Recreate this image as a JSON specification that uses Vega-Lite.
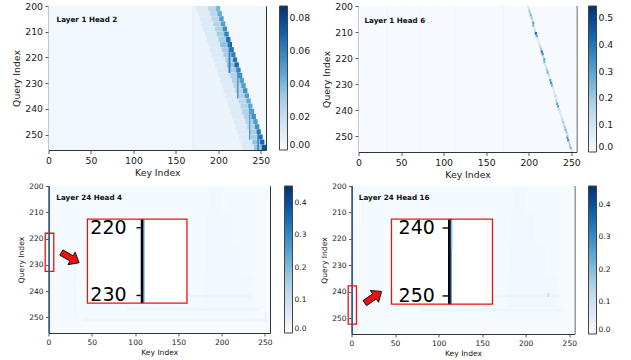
{
"$schema": "https://vega.github.io/schema/vega-lite/v6.json",
"background": "white",
"padding": {"left": 11.5, "top": 1, "right": 0, "bottom": 0},
"config": {
  "font": "DejaVu Sans",
  "view": {"stroke": "#333", "strokeWidth": 1},
  "axis": {"grid": false, "domain": false, "ticks": true, "tickCount": 12, "tickColor": "#333", "tickSize": 3.5, "tickWidth": 0.8, "labelColor": "#1a1a1a", "titleColor": "#1a1a1a", "titleFontWeight": "normal", "labelFontSize": 9.3, "titleFontSize": 9.3, "labelFlush": false, "labelOverlap": false, "labelPadding": 2.5, "titlePadding": 3, "labelFont": "DejaVu Sans", "titleFont": "DejaVu Sans"},
  "legend": {"type": "gradient", "title": null, "gradientThickness": 8, "gradientStrokeColor": "#444", "gradientStrokeWidth": 1, "labelOverlap": false, "labelColor": "#1a1a1a", "labelFont": "DejaVu Sans", "padding": 0, "labelOffset": 6, "labelBaseline": "middle", "direction": "vertical", "orient": "right"}
},
"datasets": {
  "tl": [
    {"k0":0,"k1":256,"q0":200,"q1":256,"v":0.0025},
    {"k0":169.5,"k1":171,"q0":200,"q1":256,"v":0.012},
    {"k0":171,"k1":202,"q0":200,"q1":202,"v":0.005},{"k0":174,"k1":202,"q0":200,"q1":202,"v":0.011},{"k0":188,"k1":202,"q0":200,"q1":202,"v":0.024},{"k0":197,"k1":202,"q0":200,"q1":202,"v":0.04},
    {"k0":171,"k1":204,"q0":202,"q1":204,"v":0.005},{"k0":176,"k1":204,"q0":202,"q1":204,"v":0.011},{"k0":190,"k1":204,"q0":202,"q1":204,"v":0.024},{"k0":199,"k1":204,"q0":202,"q1":204,"v":0.045},
    {"k0":171,"k1":206,"q0":204,"q1":206,"v":0.005},{"k0":178,"k1":206,"q0":204,"q1":206,"v":0.011},{"k0":192,"k1":206,"q0":204,"q1":206,"v":0.024},{"k0":201,"k1":206,"q0":204,"q1":206,"v":0.05},
    {"k0":171,"k1":208,"q0":206,"q1":208,"v":0.005},{"k0":180,"k1":208,"q0":206,"q1":208,"v":0.012},{"k0":194,"k1":208,"q0":206,"q1":208,"v":0.027},{"k0":203,"k1":208,"q0":206,"q1":208,"v":0.05},
    {"k0":171,"k1":210,"q0":208,"q1":210,"v":0.005},{"k0":182,"k1":210,"q0":208,"q1":210,"v":0.012},{"k0":196,"k1":210,"q0":208,"q1":210,"v":0.027},{"k0":205,"k1":210,"q0":208,"q1":210,"v":0.055},
    {"k0":171,"k1":212,"q0":210,"q1":212,"v":0.005},{"k0":184,"k1":212,"q0":210,"q1":212,"v":0.012},{"k0":198,"k1":212,"q0":210,"q1":212,"v":0.03},{"k0":207,"k1":212,"q0":210,"q1":212,"v":0.06},
    {"k0":171,"k1":214,"q0":212,"q1":214,"v":0.005},{"k0":186,"k1":214,"q0":212,"q1":214,"v":0.012},{"k0":200,"k1":214,"q0":212,"q1":214,"v":0.03},{"k0":209,"k1":214,"q0":212,"q1":214,"v":0.065},
    {"k0":171,"k1":216,"q0":214,"q1":216,"v":0.005},{"k0":188,"k1":216,"q0":214,"q1":216,"v":0.012},{"k0":202,"k1":216,"q0":214,"q1":216,"v":0.035},{"k0":211,"k1":216,"q0":214,"q1":216,"v":0.07},
    {"k0":171,"k1":218,"q0":216,"q1":218,"v":0.005},{"k0":190,"k1":218,"q0":216,"q1":218,"v":0.012},{"k0":204,"k1":218,"q0":216,"q1":218,"v":0.03},{"k0":213,"k1":218,"q0":216,"q1":218,"v":0.065},
    {"k0":171,"k1":220,"q0":218,"q1":220,"v":0.005},{"k0":192,"k1":220,"q0":218,"q1":220,"v":0.012},{"k0":206,"k1":220,"q0":218,"q1":220,"v":0.03},{"k0":215,"k1":220,"q0":218,"q1":220,"v":0.06},
    {"k0":171,"k1":222,"q0":220,"q1":222,"v":0.005},{"k0":194,"k1":222,"q0":220,"q1":222,"v":0.012},{"k0":208,"k1":222,"q0":220,"q1":222,"v":0.03},{"k0":217,"k1":222,"q0":220,"q1":222,"v":0.065},
    {"k0":171,"k1":224,"q0":222,"q1":224,"v":0.005},{"k0":196,"k1":224,"q0":222,"q1":224,"v":0.012},{"k0":210,"k1":224,"q0":222,"q1":224,"v":0.035},{"k0":219,"k1":224,"q0":222,"q1":224,"v":0.07},
    {"k0":171,"k1":226,"q0":224,"q1":226,"v":0.005},{"k0":198,"k1":226,"q0":224,"q1":226,"v":0.012},{"k0":212,"k1":226,"q0":224,"q1":226,"v":0.03},{"k0":221,"k1":226,"q0":224,"q1":226,"v":0.06},
    {"k0":171,"k1":228,"q0":226,"q1":228,"v":0.005},{"k0":200,"k1":228,"q0":226,"q1":228,"v":0.011},{"k0":214,"k1":228,"q0":226,"q1":228,"v":0.027},{"k0":223,"k1":228,"q0":226,"q1":228,"v":0.055},
    {"k0":171,"k1":230,"q0":228,"q1":230,"v":0.005},{"k0":202,"k1":230,"q0":228,"q1":230,"v":0.011},{"k0":216,"k1":230,"q0":228,"q1":230,"v":0.027},{"k0":225,"k1":230,"q0":228,"q1":230,"v":0.05},
    {"k0":171,"k1":232,"q0":230,"q1":232,"v":0.005},{"k0":204,"k1":232,"q0":230,"q1":232,"v":0.011},{"k0":218,"k1":232,"q0":230,"q1":232,"v":0.027},{"k0":227,"k1":232,"q0":230,"q1":232,"v":0.05},
    {"k0":171,"k1":234,"q0":232,"q1":234,"v":0.005},{"k0":206,"k1":234,"q0":232,"q1":234,"v":0.011},{"k0":220,"k1":234,"q0":232,"q1":234,"v":0.027},{"k0":229,"k1":234,"q0":232,"q1":234,"v":0.055},
    {"k0":171,"k1":236,"q0":234,"q1":236,"v":0.005},{"k0":208,"k1":236,"q0":234,"q1":236,"v":0.011},{"k0":222,"k1":236,"q0":234,"q1":236,"v":0.027},{"k0":231,"k1":236,"q0":234,"q1":236,"v":0.05},
    {"k0":171,"k1":238,"q0":236,"q1":238,"v":0.005},{"k0":210,"k1":238,"q0":236,"q1":238,"v":0.01},{"k0":224,"k1":238,"q0":236,"q1":238,"v":0.024},{"k0":233,"k1":238,"q0":236,"q1":238,"v":0.045},
    {"k0":171,"k1":240,"q0":238,"q1":240,"v":0.005},{"k0":212,"k1":240,"q0":238,"q1":240,"v":0.011},{"k0":226,"k1":240,"q0":238,"q1":240,"v":0.027},{"k0":235,"k1":240,"q0":238,"q1":240,"v":0.045},
    {"k0":171,"k1":242,"q0":240,"q1":242,"v":0.005},{"k0":214,"k1":242,"q0":240,"q1":242,"v":0.011},{"k0":228,"k1":242,"q0":240,"q1":242,"v":0.027},{"k0":237,"k1":242,"q0":240,"q1":242,"v":0.05},
    {"k0":171,"k1":244,"q0":242,"q1":244,"v":0.005},{"k0":216,"k1":244,"q0":242,"q1":244,"v":0.011},{"k0":230,"k1":244,"q0":242,"q1":244,"v":0.027},{"k0":239,"k1":244,"q0":242,"q1":244,"v":0.055},
    {"k0":171,"k1":246,"q0":244,"q1":246,"v":0.005},{"k0":218,"k1":246,"q0":244,"q1":246,"v":0.011},{"k0":232,"k1":246,"q0":244,"q1":246,"v":0.027},{"k0":241,"k1":246,"q0":244,"q1":246,"v":0.05},
    {"k0":171,"k1":248,"q0":246,"q1":248,"v":0.005},{"k0":220,"k1":248,"q0":246,"q1":248,"v":0.011},{"k0":234,"k1":248,"q0":246,"q1":248,"v":0.027},{"k0":243,"k1":248,"q0":246,"q1":248,"v":0.055},
    {"k0":171,"k1":250,"q0":248,"q1":250,"v":0.005},{"k0":222,"k1":250,"q0":248,"q1":250,"v":0.012},{"k0":236,"k1":250,"q0":248,"q1":250,"v":0.03},{"k0":245,"k1":250,"q0":248,"q1":250,"v":0.06},
    {"k0":171,"k1":252,"q0":250,"q1":252,"v":0.005},{"k0":224,"k1":252,"q0":250,"q1":252,"v":0.012},{"k0":238,"k1":252,"q0":250,"q1":252,"v":0.03},{"k0":247,"k1":252,"q0":250,"q1":252,"v":0.065},
    {"k0":171,"k1":254,"q0":252,"q1":254,"v":0.005},{"k0":226,"k1":254,"q0":252,"q1":254,"v":0.012},{"k0":240,"k1":254,"q0":252,"q1":254,"v":0.035},{"k0":249,"k1":254,"q0":252,"q1":254,"v":0.07},
    {"k0":171,"k1":256,"q0":254,"q1":256,"v":0.005},{"k0":228,"k1":256,"q0":254,"q1":256,"v":0.012},{"k0":242,"k1":256,"q0":254,"q1":256,"v":0.035},{"k0":251,"k1":256,"q0":254,"q1":256,"v":0.075},
    {"k0":212,"k1":214,"q0":213,"q1":226,"v":0.06},
    {"k0":222,"k1":223.5,"q0":223,"q1":236,"v":0.055},
    {"k0":236,"k1":237.5,"q0":238,"q1":252,"v":0.05},
    {"k0":246,"k1":247.5,"q0":248,"q1":256,"v":0.065}
  ],
  "tr": [
    {"k0":0,"k1":256,"q0":200,"q1":256,"v":0.004},
    {"k0":33,"k1":34,"q0":200,"q1":256,"v":0.02},
    {"k0":50,"k1":51,"q0":200,"q1":256,"v":0.012},
    {"k0":72,"k1":73,"q0":200,"q1":256,"v":0.02},
    {"k0":88,"k1":89,"q0":200,"q1":256,"v":0.012},
    {"k0":113,"k1":114,"q0":200,"q1":256,"v":0.02},
    {"k0":169.5,"k1":171,"q0":200,"q1":256,"v":0.035},
    {"k0":198,"k1":200.5,"q0":200,"q1":201,"v":0.1},
    {"k0":199,"k1":201.5,"q0":201,"q1":202,"v":0.15},
    {"k0":200,"k1":202.5,"q0":202,"q1":203,"v":0.2},
    {"k0":201,"k1":203.5,"q0":203,"q1":204,"v":0.25},
    {"k0":202,"k1":204.5,"q0":204,"q1":205,"v":0.2},
    {"k0":203,"k1":205.5,"q0":205,"q1":206,"v":0.15},
    {"k0":204,"k1":206.5,"q0":206,"q1":207,"v":0.3},
    {"k0":204,"k1":206.5,"q0":207,"q1":208,"v":0.25},
    {"k0":205,"k1":207.5,"q0":208,"q1":209,"v":0.1},
    {"k0":206,"k1":208.5,"q0":209,"q1":210,"v":0.15},
    {"k0":207,"k1":209.5,"q0":210,"q1":211,"v":0.45},
    {"k0":208,"k1":210.5,"q0":211,"q1":212,"v":0.3},
    {"k0":209,"k1":211.5,"q0":212,"q1":213,"v":0.1},
    {"k0":210,"k1":212.5,"q0":213,"q1":214,"v":0.08},
    {"k0":211,"k1":213.5,"q0":214,"q1":215,"v":0.1},
    {"k0":212,"k1":214.5,"q0":215,"q1":216,"v":0.15},
    {"k0":213,"k1":215.5,"q0":216,"q1":217,"v":0.2},
    {"k0":214,"k1":216.5,"q0":217,"q1":218,"v":0.4},
    {"k0":215,"k1":217.5,"q0":218,"q1":219,"v":0.35},
    {"k0":216,"k1":218.5,"q0":219,"q1":220,"v":0.15},
    {"k0":217,"k1":219.5,"q0":220,"q1":221,"v":0.3},
    {"k0":217,"k1":219.5,"q0":221,"q1":222,"v":0.25},
    {"k0":218,"k1":220.5,"q0":222,"q1":223,"v":0.1},
    {"k0":219,"k1":221.5,"q0":223,"q1":224,"v":0.1},
    {"k0":220,"k1":222.5,"q0":224,"q1":225,"v":0.2},
    {"k0":221,"k1":223.5,"q0":225,"q1":226,"v":0.25},
    {"k0":222,"k1":224.5,"q0":226,"q1":227,"v":0.15},
    {"k0":223,"k1":225.5,"q0":227,"q1":228,"v":0.1},
    {"k0":224,"k1":226.5,"q0":228,"q1":229,"v":0.3},
    {"k0":225,"k1":227.5,"q0":229,"q1":230,"v":0.35},
    {"k0":226,"k1":228.5,"q0":230,"q1":231,"v":0.25},
    {"k0":227,"k1":229.5,"q0":231,"q1":232,"v":0.1},
    {"k0":228,"k1":230.5,"q0":232,"q1":233,"v":0.08},
    {"k0":229,"k1":231.5,"q0":233,"q1":234,"v":0.1},
    {"k0":230,"k1":232.5,"q0":234,"q1":235,"v":0.15},
    {"k0":231,"k1":233.5,"q0":235,"q1":236,"v":0.1},
    {"k0":231,"k1":233.5,"q0":236,"q1":237,"v":0.15},
    {"k0":232,"k1":234.5,"q0":237,"q1":238,"v":0.3},
    {"k0":233,"k1":235.5,"q0":238,"q1":239,"v":0.3},
    {"k0":234,"k1":236.5,"q0":239,"q1":240,"v":0.15},
    {"k0":235,"k1":237.5,"q0":240,"q1":241,"v":0.1},
    {"k0":236,"k1":238.5,"q0":241,"q1":242,"v":0.1},
    {"k0":237,"k1":239.5,"q0":242,"q1":243,"v":0.1},
    {"k0":238,"k1":240.5,"q0":243,"q1":244,"v":0.15},
    {"k0":239,"k1":241.5,"q0":244,"q1":245,"v":0.2},
    {"k0":240,"k1":242.5,"q0":245,"q1":246,"v":0.15},
    {"k0":241,"k1":243.5,"q0":246,"q1":247,"v":0.2},
    {"k0":242,"k1":244.5,"q0":247,"q1":248,"v":0.25},
    {"k0":243,"k1":245.5,"q0":248,"q1":249,"v":0.2},
    {"k0":244,"k1":246.5,"q0":249,"q1":250,"v":0.15},
    {"k0":244,"k1":246.5,"q0":250,"q1":251,"v":0.3},
    {"k0":245,"k1":247.5,"q0":251,"q1":252,"v":0.35},
    {"k0":246,"k1":248.5,"q0":252,"q1":253,"v":0.15},
    {"k0":247,"k1":249.5,"q0":253,"q1":254,"v":0.2},
    {"k0":248,"k1":250.5,"q0":254,"q1":255,"v":0.25},
    {"k0":249,"k1":251.5,"q0":255,"q1":256,"v":0.1}
  ],
  "bl": [
    {"k0":0,"k1":256,"q0":200,"q1":256,"v":0.005},
    {"k0":186,"k1":200,"q0":200,"q1":210,"v":0.01},
    {"k0":183,"k1":210,"q0":210,"q1":222,"v":0.01},
    {"k0":181,"k1":222,"q0":222,"q1":234,"v":0.01},
    {"k0":179,"k1":236,"q0":234,"q1":246,"v":0.009},
    {"k0":120,"k1":121.5,"q0":212,"q1":240,"v":0.03},
    {"k0":127,"k1":128,"q0":214,"q1":244,"v":0.025},
    {"k0":150,"k1":151,"q0":215,"q1":240,"v":0.02},
    {"k0":30,"k1":31,"q0":226,"q1":250,"v":0.02},
    {"k0":210,"k1":211,"q0":205,"q1":230,"v":0.02},
    {"k0":140,"k1":235,"q0":241.5,"q1":242.5,"v":0.025},
    {"k0":90,"k1":245,"q0":246.5,"q1":247.5,"v":0.02},
    {"k0":40,"k1":250,"q0":250.5,"q1":251.5,"v":0.02},
    {"k0":250,"k1":252,"q0":248,"q1":252,"v":0.04},
    {"k0":0,"k1":1.5,"q0":200,"q1":256,"v":0.44}
  ],
  "br": [
    {"k0":0,"k1":256,"q0":200,"q1":256,"v":0.005},
    {"k0":186,"k1":200,"q0":200,"q1":210,"v":0.01},
    {"k0":183,"k1":210,"q0":210,"q1":222,"v":0.01},
    {"k0":181,"k1":222,"q0":222,"q1":234,"v":0.01},
    {"k0":179,"k1":236,"q0":234,"q1":246,"v":0.009},
    {"k0":151,"k1":152,"q0":222,"q1":234,"v":0.03},
    {"k0":120,"k1":121,"q0":210,"q1":238,"v":0.02},
    {"k0":13,"k1":14,"q0":205,"q1":215,"v":0.03},
    {"k0":140,"k1":240,"q0":241,"q1":242,"v":0.022},
    {"k0":80,"k1":245,"q0":246.5,"q1":247.5,"v":0.018},
    {"k0":225,"k1":227,"q0":240.5,"q1":242,"v":0.12},
    {"k0":0,"k1":1.5,"q0":200,"q1":256,"v":0.45}
  ],
  "titles": [
    {"p":"tl","k0":9.5,"q0":205.5,"t":"Layer 1 Head 2"},
    {"p":"tr","k0":7,"q0":205.8,"t":"Layer 1 Head 6"},
    {"p":"bl","k0":9.1,"q0":204.7,"t":"Layer 24 Head 4"},
    {"p":"br","k0":8.4,"q0":204.7,"t":"Layer 24 Head 16"}
  ],
  "boxes": [
    {"p":"bl","k0":45,"k1":160,"q0":212.6,"q1":244.6},
    {"p":"br","k0":45.9,"k1":161.8,"q0":212.5,"q1":244.7}
  ],
  "sboxes": [
    {"p":"bl","k0":-3.8,"k1":6.1,"q0":218,"q1":232.5},
    {"p":"br","k0":-3.8,"k1":5.7,"q0":237.8,"q1":252.3}
  ],
  "frames": [
    {"p":"bl","k0":106.6,"k1":109.4,"q0":212.6,"q1":244.6},
    {"p":"br","k0":110.8,"k1":113,"q0":212.5,"q1":244.7}
  ],
  "ibars": [
    {"p":"bl","k0":109.4,"k1":110.9,"q0":212.6,"q1":244.6,"v":0.29},
    {"p":"br","k0":113,"k1":114.8,"q0":212.5,"q1":244.7,"v":0.44},
    {"p":"br","k0":114.8,"k1":116,"q0":213,"q1":224,"v":0.15}
  ],
  "iticks": [
    {"p":"bl","k0":101.7,"k1":106.6,"q0":215.9},
    {"p":"bl","k0":101.7,"k1":106.6,"q0":241.7},
    {"p":"br","k0":104.5,"k1":110.8,"q0":215.9},
    {"p":"br","k0":104.5,"k1":110.8,"q0":241.6}
  ],
  "itext": [
    {"p":"bl","k0":90.3,"q0":215.9,"t":"220"},
    {"p":"bl","k0":90.3,"q0":241.7,"t":"230"},
    {"p":"br","k0":95.7,"q0":215.9,"t":"240"},
    {"p":"br","k0":95.7,"q0":241.6,"t":"250"}
  ],
  "arrows": [
    {"p":"bl","k0":25.1,"q0":227.3},
    {"p":"br","k0":24.9,"q0":242.1}
  ]
},
"vconcat": [
  {
    "hconcat": [
      {
        "width": 217.5, "height": 144,
        "layer": [
          {"data": {"name": "tl"}, "mark": {"type": "rect"},
           "encoding": {
             "x": {"field": "k0", "type": "quantitative", "scale": {"domain": [0, 256], "nice": false, "zero": false}, "axis": {"title": "Key Index", "values": [0, 50, 100, 150, 200, 250], "tickCount": 12, "labelOverlap": false}},
             "x2": {"field": "k1"},
             "y": {"field": "q0", "type": "quantitative", "scale": {"domain": [200, 256], "reverse": true, "nice": false, "zero": false}, "axis": {"title": "Query Index", "values": [200, 210, 220, 230, 240, 250], "tickCount": 12, "labelOverlap": false}},
             "y2": {"field": "q1"},
             "color": {"field": "v", "type": "quantitative", "scale": {"domain": [0, 0.087], "range": ["#f7fbff","#deebf7","#c6dbef","#9ecae1","#6baed6","#4292c6","#2171b5","#08519c","#08306b"], "interpolate": "rgb"}, "legend": {"values": [0, 0.02, 0.04, 0.06, 0.08], "format": ".2f", "gradientLength": 144, "offset": 13, "labelFontSize": 9.3}}
           }},
          {"data": {"name": "titles"}, "transform": [{"filter": "datum.p == 'tl'"}],
           "mark": {"type": "text", "align": "left", "baseline": "middle", "fontWeight": "bold", "fontSize": 7.2, "font": "DejaVu Sans", "color": "#111"},
           "encoding": {"x": {"field": "k0", "type": "quantitative"}, "y": {"field": "q0", "type": "quantitative"}, "text": {"field": "t"}}}
        ]
      },
      {
        "width": 218, "height": 146,
        "layer": [
          {"data": {"name": "tr"}, "mark": {"type": "rect"},
           "encoding": {
             "x": {"field": "k0", "type": "quantitative", "scale": {"domain": [0, 256], "nice": false, "zero": false}, "axis": {"title": "Key Index", "values": [0, 50, 100, 150, 200, 250], "tickCount": 12, "labelOverlap": false}},
             "x2": {"field": "k1"},
             "y": {"field": "q0", "type": "quantitative", "scale": {"domain": [200, 256], "reverse": true, "nice": false, "zero": false}, "axis": {"title": "Query Index", "values": [200, 210, 220, 230, 240, 250], "tickCount": 12, "labelOverlap": false}},
             "y2": {"field": "q1"},
             "color": {"field": "v", "type": "quantitative", "scale": {"domain": [0, 0.545], "range": ["#f7fbff","#deebf7","#c6dbef","#9ecae1","#6baed6","#4292c6","#2171b5","#08519c","#08306b"], "interpolate": "rgb"}, "legend": {"values": [0, 0.1, 0.2, 0.3, 0.4, 0.5], "format": ".1f", "gradientLength": 146, "offset": 12, "labelFontSize": 9.3}}
           }},
          {"data": {"name": "titles"}, "transform": [{"filter": "datum.p == 'tr'"}],
           "mark": {"type": "text", "align": "left", "baseline": "middle", "fontWeight": "bold", "fontSize": 7.2, "font": "DejaVu Sans", "color": "#111"},
           "encoding": {"x": {"field": "k0", "type": "quantitative"}, "y": {"field": "q0", "type": "quantitative"}, "text": {"field": "t"}}}
        ]
      }
    ],
    "spacing": 92, "bounds": "flush",
    "resolve": {"scale": {"color": "independent", "x": "independent", "y": "independent"}, "legend": {"color": "independent"}}
  },
  {
    "hconcat": [
      {
        "width": 221.5, "height": 147,
        "layer": [
          {"data": {"name": "bl"}, "mark": {"type": "rect"},
           "encoding": {
             "x": {"field": "k0", "type": "quantitative", "scale": {"domain": [0, 256], "nice": false, "zero": false}, "axis": {"title": "Key Index", "values": [0, 50, 100, 150, 200, 250], "tickCount": 12, "labelOverlap": false, "labelFontSize": 7.5, "titleFontSize": 7.6, "tickSize": 3, "titlePadding": 2}},
             "x2": {"field": "k1"},
             "y": {"field": "q0", "type": "quantitative", "scale": {"domain": [200, 256], "reverse": true, "nice": false, "zero": false}, "axis": {"title": "Query Index", "values": [200, 210, 220, 230, 240, 250], "tickCount": 12, "labelOverlap": false, "labelFontSize": 7.5, "titleFontSize": 7.6, "tickSize": 3}},
             "y2": {"field": "q1"},
             "color": {"field": "v", "type": "quantitative", "scale": {"domain": [0, 0.452], "range": ["#f7fbff","#deebf7","#c6dbef","#9ecae1","#6baed6","#4292c6","#2171b5","#08519c","#08306b"], "interpolate": "rgb"}, "legend": {"values": [0, 0.1, 0.2, 0.3, 0.4], "format": ".1f", "gradientLength": 147, "offset": 14, "labelFontSize": 7.5}}
           }},
          {"data": {"name": "boxes"}, "transform": [{"filter": "datum.p == 'bl'"}], "mark": {"type": "rect", "fill": "white"},
           "encoding": {"x": {"field": "k0", "type": "quantitative"}, "x2": {"field": "k1"}, "y": {"field": "q0", "type": "quantitative"}, "y2": {"field": "q1"}}},
          {"data": {"name": "ibars"}, "transform": [{"filter": "datum.p == 'bl'"}], "mark": {"type": "rect"},
           "encoding": {"x": {"field": "k0", "type": "quantitative"}, "x2": {"field": "k1"}, "y": {"field": "q0", "type": "quantitative"}, "y2": {"field": "q1"},
             "color": {"field": "v", "type": "quantitative"}}},
          {"data": {"name": "frames"}, "transform": [{"filter": "datum.p == 'bl'"}], "mark": {"type": "rect", "fill": "black"},
           "encoding": {"x": {"field": "k0", "type": "quantitative"}, "x2": {"field": "k1"}, "y": {"field": "q0", "type": "quantitative"}, "y2": {"field": "q1"}}},
          {"data": {"name": "iticks"}, "transform": [{"filter": "datum.p == 'bl'"}], "mark": {"type": "rule", "color": "black", "strokeWidth": 1.4},
           "encoding": {"x": {"field": "k0", "type": "quantitative"}, "x2": {"field": "k1"}, "y": {"field": "q0", "type": "quantitative"}}},
          {"data": {"name": "itext"}, "transform": [{"filter": "datum.p == 'bl'"}], "mark": {"type": "text", "align": "right", "baseline": "middle", "fontSize": 19, "font": "DejaVu Sans", "color": "black"},
           "encoding": {"x": {"field": "k0", "type": "quantitative"}, "y": {"field": "q0", "type": "quantitative"}, "text": {"field": "t"}}},
          {"data": {"name": "boxes"}, "transform": [{"filter": "datum.p == 'bl'"}], "mark": {"type": "rect", "fill": null, "fillOpacity": 0, "stroke": "#ee1111", "strokeWidth": 1.3},
           "encoding": {"x": {"field": "k0", "type": "quantitative"}, "x2": {"field": "k1"}, "y": {"field": "q0", "type": "quantitative"}, "y2": {"field": "q1"}}},
          {"data": {"name": "sboxes"}, "transform": [{"filter": "datum.p == 'bl'"}], "mark": {"type": "rect", "fill": null, "fillOpacity": 0, "stroke": "#ee1111", "strokeWidth": 1.3, "clip": false},
           "encoding": {"x": {"field": "k0", "type": "quantitative"}, "x2": {"field": "k1"}, "y": {"field": "q0", "type": "quantitative"}, "y2": {"field": "q1"}}},
          {"data": {"name": "arrows"}, "transform": [{"filter": "datum.p == 'bl'"}],
           "mark": {"type": "point", "shape": "M -1 -0.3 L 0.15 -0.3 L 0.15 -0.7 L 1 0 L 0.15 0.7 L 0.15 0.3 L -1 0.3 Z", "size": 420, "filled": true, "fill": "#ee1111", "stroke": "black", "strokeWidth": 0.8, "angle": 30, "opacity": 1, "fillOpacity": 1},
           "encoding": {"x": {"field": "k0", "type": "quantitative"}, "y": {"field": "q0", "type": "quantitative"}}},
          {"data": {"name": "titles"}, "transform": [{"filter": "datum.p == 'bl'"}],
           "mark": {"type": "text", "align": "left", "baseline": "middle", "fontWeight": "bold", "fontSize": 7.2, "font": "DejaVu Sans", "color": "#111"},
           "encoding": {"x": {"field": "k0", "type": "quantitative"}, "y": {"field": "q0", "type": "quantitative"}, "text": {"field": "t"}}}
        ]
      },
      {
        "width": 223, "height": 148,
        "layer": [
          {"data": {"name": "br"}, "mark": {"type": "rect"},
           "encoding": {
             "x": {"field": "k0", "type": "quantitative", "scale": {"domain": [0, 256], "nice": false, "zero": false}, "axis": {"title": "Key Index", "values": [0, 50, 100, 150, 200, 250], "tickCount": 12, "labelOverlap": false, "labelFontSize": 7.5, "titleFontSize": 7.6, "tickSize": 3, "titlePadding": 2}},
             "x2": {"field": "k1"},
             "y": {"field": "q0", "type": "quantitative", "scale": {"domain": [200, 256], "reverse": true, "nice": false, "zero": false}, "axis": {"title": "Query Index", "values": [200, 210, 220, 230, 240, 250], "tickCount": 12, "labelOverlap": false, "labelFontSize": 7.5, "titleFontSize": 7.6, "tickSize": 3}},
             "y2": {"field": "q1"},
             "color": {"field": "v", "type": "quantitative", "scale": {"domain": [0, 0.46], "range": ["#f7fbff","#deebf7","#c6dbef","#9ecae1","#6baed6","#4292c6","#2171b5","#08519c","#08306b"], "interpolate": "rgb"}, "legend": {"values": [0, 0.1, 0.2, 0.3, 0.4], "format": ".1f", "gradientLength": 148, "offset": 14, "labelFontSize": 7.5}}
           }},
          {"data": {"name": "boxes"}, "transform": [{"filter": "datum.p == 'br'"}], "mark": {"type": "rect", "fill": "white"},
           "encoding": {"x": {"field": "k0", "type": "quantitative"}, "x2": {"field": "k1"}, "y": {"field": "q0", "type": "quantitative"}, "y2": {"field": "q1"}}},
          {"data": {"name": "ibars"}, "transform": [{"filter": "datum.p == 'br'"}], "mark": {"type": "rect"},
           "encoding": {"x": {"field": "k0", "type": "quantitative"}, "x2": {"field": "k1"}, "y": {"field": "q0", "type": "quantitative"}, "y2": {"field": "q1"},
             "color": {"field": "v", "type": "quantitative"}}},
          {"data": {"name": "frames"}, "transform": [{"filter": "datum.p == 'br'"}], "mark": {"type": "rect", "fill": "black"},
           "encoding": {"x": {"field": "k0", "type": "quantitative"}, "x2": {"field": "k1"}, "y": {"field": "q0", "type": "quantitative"}, "y2": {"field": "q1"}}},
          {"data": {"name": "iticks"}, "transform": [{"filter": "datum.p == 'br'"}], "mark": {"type": "rule", "color": "black", "strokeWidth": 1.4},
           "encoding": {"x": {"field": "k0", "type": "quantitative"}, "x2": {"field": "k1"}, "y": {"field": "q0", "type": "quantitative"}}},
          {"data": {"name": "itext"}, "transform": [{"filter": "datum.p == 'br'"}], "mark": {"type": "text", "align": "right", "baseline": "middle", "fontSize": 19, "font": "DejaVu Sans", "color": "black"},
           "encoding": {"x": {"field": "k0", "type": "quantitative"}, "y": {"field": "q0", "type": "quantitative"}, "text": {"field": "t"}}},
          {"data": {"name": "boxes"}, "transform": [{"filter": "datum.p == 'br'"}], "mark": {"type": "rect", "fill": null, "fillOpacity": 0, "stroke": "#ee1111", "strokeWidth": 1.3},
           "encoding": {"x": {"field": "k0", "type": "quantitative"}, "x2": {"field": "k1"}, "y": {"field": "q0", "type": "quantitative"}, "y2": {"field": "q1"}}},
          {"data": {"name": "sboxes"}, "transform": [{"filter": "datum.p == 'br'"}], "mark": {"type": "rect", "fill": null, "fillOpacity": 0, "stroke": "#ee1111", "strokeWidth": 1.3, "clip": false},
           "encoding": {"x": {"field": "k0", "type": "quantitative"}, "x2": {"field": "k1"}, "y": {"field": "q0", "type": "quantitative"}, "y2": {"field": "q1"}}},
          {"data": {"name": "arrows"}, "transform": [{"filter": "datum.p == 'br'"}],
           "mark": {"type": "point", "shape": "M -1 -0.3 L 0.15 -0.3 L 0.15 -0.7 L 1 0 L 0.15 0.7 L 0.15 0.3 L -1 0.3 Z", "size": 420, "filled": true, "fill": "#ee1111", "stroke": "black", "strokeWidth": 0.8, "angle": 325, "opacity": 1, "fillOpacity": 1},
           "encoding": {"x": {"field": "k0", "type": "quantitative"}, "y": {"field": "q0", "type": "quantitative"}}},
          {"data": {"name": "titles"}, "transform": [{"filter": "datum.p == 'br'"}],
           "mark": {"type": "text", "align": "left", "baseline": "middle", "fontWeight": "bold", "fontSize": 7.2, "font": "DejaVu Sans", "color": "#111"},
           "encoding": {"x": {"field": "k0", "type": "quantitative"}, "y": {"field": "q0", "type": "quantitative"}, "text": {"field": "t"}}}
        ]
      }
    ],
    "spacing": 81, "bounds": "flush",
    "resolve": {"scale": {"color": "independent", "x": "independent", "y": "independent"}, "legend": {"color": "independent"}}
  }
],
"spacing": 0,
"resolve": {"scale": {"color": "independent", "x": "independent", "y": "independent"}, "legend": {"color": "independent"}}
}
